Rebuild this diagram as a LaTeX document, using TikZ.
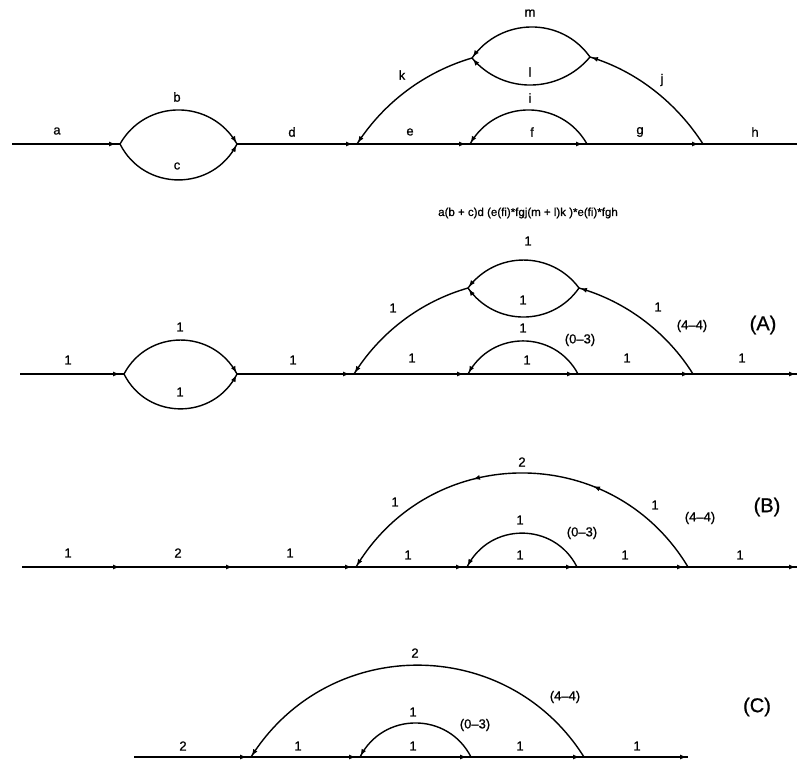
\documentclass[tikz,border=0pt]{standalone}
\usepackage{fontspec}
\setmainfont{Liberation Sans}
\newfontfamily\lblfont[FakeBold=0.8]{Liberation Sans}
\usetikzlibrary{arrows.meta,decorations.markings}
\begin{document}
\begin{tikzpicture}[x=1pt,y=1pt,
  ln/.style={line width=1.4pt},
  tipat/.style={postaction={decorate,decoration={markings,mark=at position #1 with {\arrow{Latex[length=7pt,width=5pt]}}}}},
  lbl/.style={font=\lblfont\fontsize{13}{13}\selectfont, inner sep=0pt},
  tag/.style={font=\lblfont\fontsize{20}{20}\selectfont, inner sep=0pt},
  frm/.style={font=\lblfont\fontsize{11.5}{11.5}\selectfont, inner sep=0pt},
]
\useasboundingbox (0,0) rectangle (797,-761);

% ---------------- row 1 ----------------
\coordinate (S1) at (12,-144);
\coordinate (P1) at (120,-144);
\coordinate (Q1) at (237,-144);
\coordinate (K1) at (357,-144);
\coordinate (F1a) at (470,-144);
\coordinate (F1b) at (587,-144);
\coordinate (J1) at (703,-144);
\coordinate (E1) at (797,-144);
\coordinate (L1a) at (472,-58);
\coordinate (L1b) at (590,-57);
\draw[ln,tipat=-4pt] (S1) -- (P1);
\draw[ln,tipat=-1pt] (P1) .. controls +(25.8,45.4) and +(-25.8,45.4) .. (Q1);
\draw[ln,tipat=-1pt] (P1) .. controls +(24.2,-47.9) and +(-24.2,-47.9) .. (Q1);
\draw[ln,tipat=-4pt] (Q1) -- (K1);
\draw[ln,tipat=-4pt] (K1) -- (F1a);
\draw[ln,tipat=-4pt] (F1a) -- (F1b);
\draw[ln,tipat=-1pt] (F1b) .. controls +(-25.8,45.4) and +(25.8,45.4) .. (F1a);
\draw[ln,tipat=-4pt] (F1b) -- (J1);
\draw[ln] (J1) -- (E1);
\draw[ln,tipat=-1pt] (J1) .. controls +(-26.5,41.1) and +(46.8,-14.1) .. (L1b);
\draw[ln,tipat=-1pt] (L1b) .. controls +(-28.8,40.7) and +(28.8,40.7) .. (L1a);
\draw[ln,tipat=-1pt] (L1b) .. controls +(-30.8,-36.7) and +(30.8,-36.7) .. (L1a);
\draw[ln,tipat=-1pt] (L1a) .. controls +(-47.4,-13.9) and +(26.8,41.5) .. (K1);

\node[lbl] (t1a) at (57,-131) {a};
\node[lbl] (t1b) at (177,-97) {b};
\node[lbl] (t1c) at (177,-166) {c};
\node[lbl] (t1d) at (292,-132) {d};
\node[lbl] (t1k) at (402,-75) {k};
\node[lbl] (t1m) at (530,-13) {m};
\node[lbl] (t1l) at (530,-72) {l};
\node[lbl] (t1i) at (530,-98) {i};
\node[lbl] (t1e) at (410,-132) {e};
\node[lbl] (t1f) at (532,-132) {f};
\node[lbl] (t1g) at (640,-132) {g};
\node[lbl] (t1j) at (662,-80) {j};
\node[lbl] (t1h) at (755,-132) {h};

\node[frm] (formula) at (528,-213) {a(b + c)d (e(fi)*fgj(m + l)k )*e(fi)*fgh};

% ---------------- row A ----------------
\coordinate (SA) at (20,-374);
\coordinate (PA) at (124,-374);
\coordinate (QA) at (237,-374);
\coordinate (KA) at (354,-374);
\coordinate (FAa) at (468,-374);
\coordinate (FAb) at (578,-374);
\coordinate (JA) at (693,-374);
\coordinate (EA) at (797,-374);
\coordinate (LAa) at (468,-288);
\coordinate (LAb) at (579,-288);
\draw[ln,tipat=-4pt] (SA) -- (PA);
\draw[ln,tipat=-1pt] (PA) .. controls +(24.0,45.3) and +(-24.0,45.3) .. (QA);
\draw[ln,tipat=-1pt] (PA) .. controls +(23.2,-46.5) and +(-23.2,-46.5) .. (QA);
\draw[ln,tipat=-4pt] (QA) -- (KA);
\draw[ln,tipat=-4pt] (KA) -- (FAa);
\draw[ln,tipat=-4pt] (FAa) -- (FAb);
\draw[ln,tipat=-1pt] (FAb) .. controls +(-23.4,44.1) and +(23.4,44.1) .. (FAa);
\draw[ln,tipat=-4pt] (FAb) -- (JA);
\draw[ln,tipat=-1pt] (JA) -- (EA);
\draw[ln,tipat=-1pt] (JA) .. controls +(-26.1,41.7) and +(47.3,-13.6) .. (LAb);
\draw[ln,tipat=-1pt] (LAb) .. controls +(-27.6,37.3) and +(27.6,37.3) .. (LAa);
\draw[ln,tipat=-1pt] (LAb) .. controls +(-26.9,-38.7) and +(26.9,-38.7) .. (LAa);
\draw[ln,tipat=-1pt] (LAa) .. controls +(-47.3,-13.6) and +(26.1,41.7) .. (KA);

\node[lbl] (tAa) at (68,-360) {1};
\node[lbl] (tAb) at (180,-327) {1};
\node[lbl] (tAc) at (180,-392) {1};
\node[lbl] (tAd) at (293,-360) {1};
\node[lbl] (tAk) at (393,-308) {1};
\node[lbl] (tAm) at (528,-241) {1};
\node[lbl] (tAl) at (523,-300) {1};
\node[lbl] (tAi) at (523,-328) {1};
\node[lbl] (tA03) at (580,-340) {(0–3)};
\node[lbl] (tAj) at (658,-307) {1};
\node[lbl] (tA44) at (692,-326) {(4–4)};
\node[tag] (tagA) at (763,-325) {(A)};
\node[lbl] (tAe) at (412,-358) {1};
\node[lbl] (tAf) at (527,-360) {1};
\node[lbl] (tAg) at (627,-358) {1};
\node[lbl] (tAh) at (742,-358) {1};

% ---------------- row B ----------------
\coordinate (SB) at (22,-567);
\coordinate (B1) at (124,-567);
\coordinate (B2) at (237,-567);
\coordinate (KB) at (356,-567);
\coordinate (FBa) at (467,-567);
\coordinate (FBb) at (577,-567);
\coordinate (JB) at (688,-567);
\coordinate (EB) at (797,-567);
\draw[ln,tipat=-4pt] (SB) -- (B1);
\draw[ln,tipat=-4pt] (B1) -- (B2);
\draw[ln,tipat=-4pt] (B2) -- (KB);
\draw[ln,tipat=-4pt] (KB) -- (FBa);
\draw[ln,tipat=-4pt] (FBa) -- (FBb);
\draw[ln,tipat=-1pt] (FBb) .. controls +(-22.7,45.2) and +(22.7,45.2) .. (FBa);
\draw[ln,tipat=-4pt] (FBb) -- (JB);
\draw[ln,tipat=-1pt] (JB) -- (EB);
\draw[ln,tipat=0.318,tipat=0.624,tipat=-1pt] (JB) .. controls +(-75.2,125.4) and +(75.2,125.4) .. (KB);

\node[lbl] (tBa) at (68,-553) {1};
\node[lbl] (tBb) at (178,-553) {2};
\node[lbl] (tBd) at (290,-553) {1};
\node[lbl] (tBk) at (395,-502) {1};
\node[lbl] (tBm) at (522,-462) {2};
\node[lbl] (tBj) at (655,-505) {1};
\node[lbl] (tB44) at (700,-518) {(4–4)};
\node[tag] (tagB) at (767,-507) {(B)};
\node[lbl] (tBi) at (520,-520) {1};
\node[lbl] (tB03) at (582,-533) {(0–3)};
\node[lbl] (tBe) at (408,-555) {1};
\node[lbl] (tBf) at (520,-555) {1};
\node[lbl] (tBg) at (625,-555) {1};
\node[lbl] (tBh) at (740,-555) {1};

% ---------------- row C ----------------
\coordinate (SC) at (134,-757);
\coordinate (KC) at (251,-757);
\coordinate (FCa) at (360,-757);
\coordinate (FCb) at (471,-757);
\coordinate (JC) at (584,-757);
\coordinate (EC) at (688,-757);
\draw[ln,tipat=-4pt] (SC) -- (KC);
\draw[ln,tipat=-4pt] (KC) -- (FCa);
\draw[ln,tipat=-4pt] (FCa) -- (FCb);
\draw[ln,tipat=-1pt] (FCb) .. controls +(-23.1,45.4) and +(23.1,45.4) .. (FCa);
\draw[ln,tipat=-4pt] (FCb) -- (JC);
\draw[ln,tipat=-1pt] (JC) -- (EC);
\draw[ln,tipat=-1pt] (JC) .. controls +(-77.2,122.5) and +(77.2,122.5) .. (KC);

\node[lbl] (tCa) at (183,-746) {2};
\node[lbl] (tCe) at (298,-746) {1};
\node[lbl] (tCm) at (415,-653) {2};
\node[lbl] (tCi) at (413,-712) {1};
\node[lbl] (tCf) at (413,-746) {1};
\node[lbl] (tC03) at (475,-725) {(0–3)};
\node[lbl] (tC44) at (565,-697) {(4–4)};
\node[tag] (tagC) at (757,-707) {(C)};
\node[lbl] (tCg) at (520,-746) {1};
\node[lbl] (tCh) at (637,-746) {1};
\end{tikzpicture}
\end{document}
